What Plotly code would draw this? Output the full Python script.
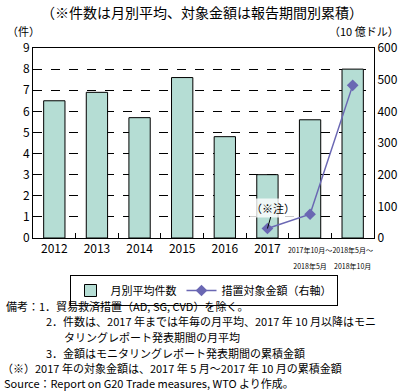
import plotly.graph_objects as go

categories = ["2012", "2013", "2014", "2015", "2016", "2017", "2017.10-2018.5", "2018.5-2018.10"]
tick_labels = ["2012", "2013", "2014", "2015", "2016", "2017",
               "<span style='font-size:7px'>2017年10月～<br>2018年5月</span>",
               "<span style='font-size:7px'>2018年5月～<br>2018年10月</span>"]
counts = [6.5, 6.9, 5.7, 7.6, 4.8, 3.0, 5.6, 8.0]
amount_cats = ["2017", "2017.10-2018.5", "2018.5-2018.10"]
amounts = [30, 75, 482]

FONT = "Noto Sans CJK JP"
BAR = "#B5DDD4"
LINE = "#6A67B3"

fig = go.Figure()
fig.add_trace(go.Bar(x=categories, y=counts, name="月別平均件数",
                     marker=dict(color=BAR, line=dict(color="black", width=1)),
                     width=0.5))
fig.add_trace(go.Scatter(x=amount_cats, y=amounts, name="措置対象金額（右軸）", yaxis="y2",
                         mode="lines+markers",
                         line=dict(color=LINE, width=1.5),
                         marker=dict(symbol="diamond", size=9, color=LINE)))

notes = [
    (4, 306, "備考：1．貿易救済措置（AD, SG, CVD）を除く。"),
    (44, 321, "2．件数は、2017 年までは年毎の月平均、2017 年 10 月以降はモニ"),
    (62, 337, "タリングレポート発表期間の月平均"),
    (44, 353, "3．金額はモニタリングレポート発表期間の累積金額"),
    (0, 368, "（※）2017 年の対象金額は、2017 年 5 月～2017 年 10 月の累積金額"),
    (2, 383, "Source：Report on G20 Trade measures, WTO より作成。"),
]

L, R, T, B = 33, 30, 48, 153
W, H = 404, 391
pw, ph = W - L - R, H - T - B

def px(x):
    return (x - L) / pw

def py(y):
    return (H - B - y) / ph

annotations = []
for x, y, t in notes:
    annotations.append(dict(text=t, x=px(x), y=py(y), xref="paper", yref="paper",
                            xanchor="left", yanchor="middle", showarrow=False,
                            font=dict(size=11, color="black", family=FONT)))
annotations.append(dict(text="（※件数は月別平均、対象金額は報告期間別累積）", x=px(202), y=py(12),
                        xref="paper", yref="paper", xanchor="center", yanchor="middle",
                        showarrow=False, font=dict(size=14, color="black", family=FONT)))
annotations.append(dict(text="（件）", x=px(5), y=py(31), xref="paper", yref="paper",
                        xanchor="left", yanchor="middle", showarrow=False,
                        font=dict(size=11, color="black", family=FONT)))
annotations.append(dict(text="（10 億ドル）", x=px(401), y=py(31), xref="paper", yref="paper",
                        xanchor="right", yanchor="middle", showarrow=False,
                        font=dict(size=11, color="black", family=FONT)))
annotations.append(dict(text="（※注）", x=categories.index(amount_cats[0]), y=amounts[0],
                        xref="x", yref="y2",
                        ax=6, ay=-21, showarrow=True, arrowhead=0, arrowwidth=1,
                        arrowcolor="black", bgcolor="rgba(255,255,255,0.8)",
                        font=dict(size=11, color="black", family=FONT)))

fig.update_layout(
    width=W, height=H,
    margin=dict(l=L, r=R, t=T, b=B, autoexpand=False),
    paper_bgcolor="white", plot_bgcolor="white",
    font=dict(family=FONT, size=12, color="black"),
    bargap=0.5,
    showlegend=True,
    legend=dict(orientation="h", x=0.5, xanchor="center", y=py(275), yanchor="top",
                bordercolor="black", borderwidth=1, font=dict(size=11, family=FONT),
                tracegroupgap=0, itemwidth=30),
    xaxis=dict(type="category", categoryorder="array", categoryarray=categories,
               range=[-0.5, len(categories) - 0.5], automargin=False, tickangle=0,
               tickmode="array", tickvals=categories, ticktext=tick_labels,
               tickson="boundaries", ticks="inside", ticklen=5, tickcolor="black",
               showline=True, linecolor="black", linewidth=1, mirror=True,
               showgrid=False, tickfont=dict(size=12)),
    yaxis=dict(range=[0, 9], dtick=1, showgrid=True, gridcolor="black", griddash="dash",
               gridwidth=1, showline=True, linecolor="black", linewidth=1, mirror=True,
               ticks="", tickfont=dict(size=12), zeroline=False, automargin=False),
    yaxis2=dict(range=[0, 600], dtick=100, overlaying="y", side="right", showgrid=False,
                showline=True, linecolor="black", ticks="", tickfont=dict(size=12),
                zeroline=False, automargin=False),
    annotations=annotations,
)

fig.write_html("out.html", config={"displayModeBar": False},
               post_script="document.body.style.margin='0';document.body.style.overflow='hidden';")
